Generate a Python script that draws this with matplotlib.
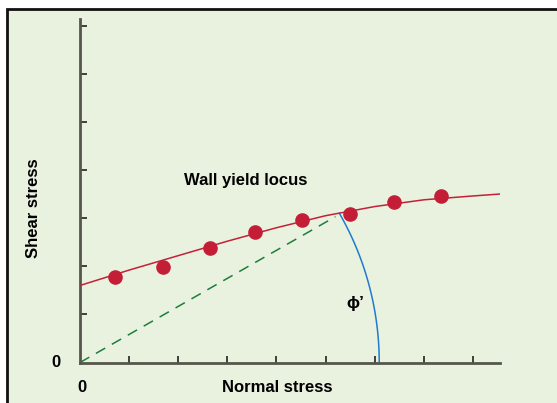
import numpy as np
import matplotlib.pyplot as plt
from matplotlib.patches import Rectangle

plt.rcParams['font.family'] = ['Liberation Sans', 'DejaVu Sans']

# measured wall shear points
normal = [0.72, 1.68, 2.64, 3.57, 4.51, 5.50, 6.40, 7.34]
shear = [1.78, 1.99, 2.37, 2.72, 2.96, 3.09, 3.34, 3.45]

# fitted yield locus
locus_x = [0, 1, 2, 3, 4, 5, 6, 7, 8, 8.55]
locus_y = [1.60, 1.92, 2.22, 2.52, 2.80, 3.05, 3.24, 3.38, 3.46, 3.50]

# line from origin to tangent point
tan_x = [0, 5.20]
tan_y = [0, 3.03]

bg = '#e9f2de'
fig = plt.figure(figsize=(5.57, 4.03), dpi=100)
fig.patch.set_facecolor('white')
frame = Rectangle((7/557, -0.1), 1.2, 1 - 9/403 + 0.1, transform=fig.transFigure,
                  facecolor=bg, edgecolor='#111111', linewidth=2, zorder=-5)
fig.patches.append(frame)

ax = fig.add_axes([80/557, 1 - 362.5/403, 420/557, 343.2/403])
ax.set_facecolor('none')
ax.set_xlim(0, 8.55)
ax.set_ylim(0, 7.13)

ax.plot(locus_x, locus_y, color='#c4203a', lw=1.1, zorder=3)
ax.plot(tan_x, tan_y, color='#1e7d3c', lw=1.1, dashes=(7, 5), zorder=2)
ax.plot(normal, shear, 'o', color='#c41e36', ms=9.5, zorder=4)

# angle arc drawn in screen space around the origin
fig.canvas.draw()
o = ax.transData.transform((0, 0))
p = ax.transData.transform((5.28, 3.10))
r = np.hypot(*(p - o))
a1 = np.arctan2(p[1] - o[1], p[0] - o[0])
t = np.linspace(0, a1, 60)
pts = np.column_stack([o[0] + r*np.cos(t), o[1] + r*np.sin(t)])
arc = ax.transData.inverted().transform(pts)
ax.plot(arc[:, 0], arc[:, 1], color='#1f7bd0', lw=1.1, zorder=2)

for s in ['top', 'right']:
    ax.spines[s].set_visible(False)
for s in ['left', 'bottom']:
    ax.spines[s].set_color('#55574c')
    ax.spines[s].set_linewidth(2)

ax.set_xticks(range(1, 9))
ax.set_yticks(range(1, 8))
ax.tick_params(direction='in', length=5, width=1.2, color='#222222',
               labelbottom=False, labelleft=False)

ax.text(3.38, 3.79, 'Wall yield locus', fontsize=12, fontweight='bold',
        ha='center', va='center')
ax.text(5.6, 1.22, "\u03d5\u2019", fontsize=12.5, fontweight='bold',
        ha='center', va='center')

fig.text(56/557, 1 - 362.5/403, '0', fontsize=12, fontweight='bold', ha='center', va='center')
fig.text(82/557, 1 - 387/403, '0', fontsize=12, fontweight='bold', ha='center', va='center')
fig.text(277/557, 1 - 387/403, 'Normal stress', fontsize=12, fontweight='bold',
         ha='center', va='center')
fig.text(33/557, 1 - 208/403, 'Shear stress', fontsize=12, fontweight='bold',
         ha='center', va='center', rotation=90)

fig.savefig('out.png', dpi=100)
